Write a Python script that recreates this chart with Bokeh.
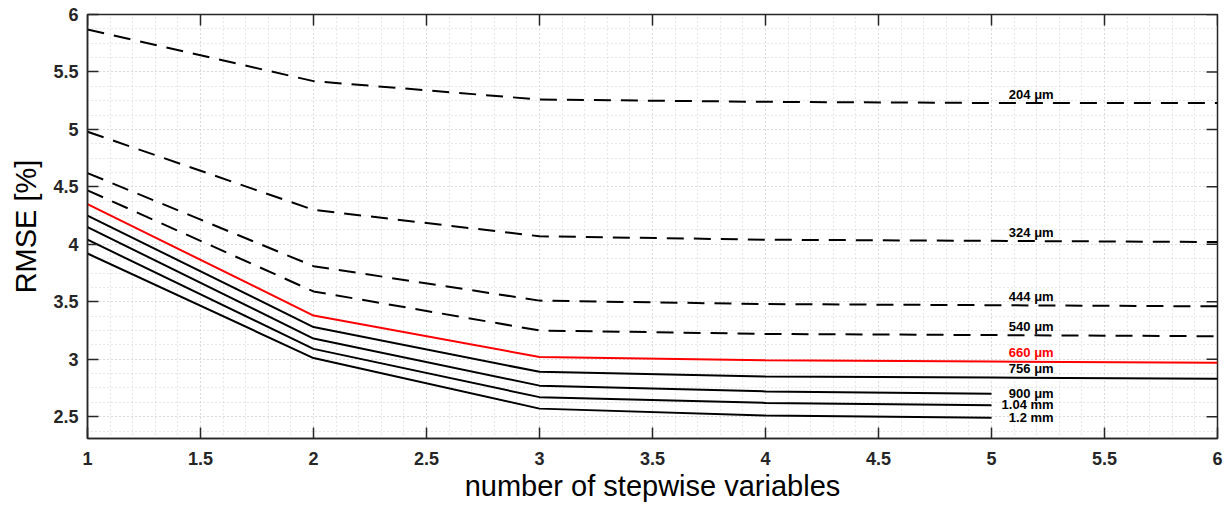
import math
from bokeh.plotting import figure
from bokeh.models import FixedTicker, Range1d, ColumnDataSource
from bokeh.embed import file_html
from bokeh.resources import INLINE
from bokeh.core.properties import value

# ---- data ----
steps6 = [1, 2, 3, 4, 5, 6]
steps5 = [1, 2, 3, 4, 5]
rmse_204 = [5.87, 5.42, 5.26, 5.24, 5.23, 5.23]
rmse_324 = [4.98, 4.30, 4.07, 4.04, 4.03, 4.02]
rmse_444 = [4.62, 3.81, 3.51, 3.48, 3.47, 3.46]
rmse_540 = [4.47, 3.59, 3.25, 3.22, 3.21, 3.20]
rmse_660 = [4.35, 3.38, 3.02, 2.99, 2.98, 2.97]
rmse_756 = [4.25, 3.28, 2.89, 2.85, 2.84, 2.83]
rmse_900 = [4.15, 3.18, 2.77, 2.72, 2.70]
rmse_1040 = [4.04, 3.09, 2.67, 2.62, 2.60]
rmse_1200 = [3.92, 3.01, 2.57, 2.51, 2.49]
labels = ["204 \u03bcm", "324 \u03bcm", "444 \u03bcm", "540 \u03bcm", "660 \u03bcm",
          "756 \u03bcm", "900 \u03bcm", "1.04 mm", "1.2 mm"]
x_ticks = [1, 1.5, 2, 2.5, 3, 3.5, 4, 4.5, 5, 5.5, 6]
y_ticks = [2.5, 3, 3.5, 4, 4.5, 5, 5.5, 6]

series = [
    (steps6, rmse_204, "black", "dashed"),
    (steps6, rmse_324, "black", "dashed"),
    (steps6, rmse_444, "black", "dashed"),
    (steps6, rmse_540, "black", "dashed"),
    (steps6, rmse_660, "#ff0000", "solid"),
    (steps6, rmse_756, "black", "solid"),
    (steps5, rmse_900, "black", "solid"),
    (steps5, rmse_1040, "black", "solid"),
    (steps5, rmse_1200, "black", "solid"),
]

X0, X1, Y0, Y1 = 1, 6, 2.31, 6
p = figure(width=1227, height=506, output_backend="svg", toolbar_location=None,
           x_range=Range1d(X0, X1), y_range=Range1d(Y0, Y1),
           min_border_left=87, min_border_right=10, min_border_top=14, min_border_bottom=68)
p.background_fill_color = "white"
p.border_fill_color = "white"
p.outline_line_color = "#262626"
p.outline_line_width = 1.5

# grid
xminor = [round(1 + 0.1 * i, 2) for i in range(51)]
yminor = [round(2.375 + 0.125 * i, 3) for i in range(30)]
for g, maj, mnr in ((p.xgrid[0], x_ticks, xminor), (p.ygrid[0], y_ticks, yminor)):
    g.ticker = FixedTicker(ticks=maj, minor_ticks=mnr)
    g.grid_line_color = "#cfcfcf"
    g.grid_line_dash = "1 3"
    g.grid_line_width = 1
    g.minor_grid_line_color = "#cfcfcf"
    g.minor_grid_line_dash = "1 3"
    g.minor_grid_line_width = 1

def style_axis(ax, ticks):
    ax.ticker = FixedTicker(ticks=ticks)
    ax.major_tick_in = 11
    ax.major_tick_out = 0
    ax.minor_tick_in = 0
    ax.minor_tick_out = 0
    ax.axis_line_color = "#262626"
    ax.axis_line_width = 1.5
    ax.major_tick_line_color = "#262626"
    ax.major_tick_line_width = 1.5
    ax.major_label_text_font = "Liberation Sans"
    ax.major_label_text_font_style = "bold"
    ax.major_label_text_color = "#262626"
    ax.major_label_text_font_size = "18px"

xa = p.xaxis[0]
ya = p.yaxis[0]
style_axis(xa, x_ticks)
style_axis(ya, y_ticks)
xa.major_label_standoff = 13
ya.major_label_standoff = 9
xa.axis_label = "number of stepwise variables"
ya.axis_label = "RMSE [%]"
for ax in (xa, ya):
    ax.axis_label_text_font = "Liberation Sans"
    ax.axis_label_text_font_style = "normal"
    ax.axis_label_text_font_size = "29px"
    ax.axis_label_text_color = "#000000"
xa.axis_label_standoff = 2
ya.axis_label_standoff = 8

# inward ticks on top and right edges (box)
p.ray(x=x_ticks, y=[Y1] * len(x_ticks), length=11, length_units="screen",
      angle=-math.pi / 2, line_color="#262626", line_width=1.5)
p.ray(x=[X1] * len(y_ticks), y=y_ticks, length=11, length_units="screen",
      angle=math.pi, line_color="#262626", line_width=1.5)

for (xs, ys, col, dash) in series:
    p.line(xs, ys, line_color=col, line_width=2,
           line_dash=("17 10" if dash == "dashed" else "solid"))

# labels near line ends
lab_x = []
lab_y = []
lab_c = []
for (xs, ys, col, dash), lab in zip(series, labels):
    lab_x.append(5.275)
    if xs[-1] == 6:
        lab_y.append(ys[4] + 0.075)
    else:
        lab_y.append(ys[-1] + 0.005)
    lab_c.append(col)
src = ColumnDataSource(dict(x=lab_x, y=lab_y, t=labels, c=lab_c))
p.text(x="x", y="y", text="t", text_color="c", source=src,
       text_font=value("Liberation Sans"), text_font_style="bold",
       text_font_size="13px", text_align="right", text_baseline="middle")

open("out.html", "w").write(file_html(p, INLINE))
